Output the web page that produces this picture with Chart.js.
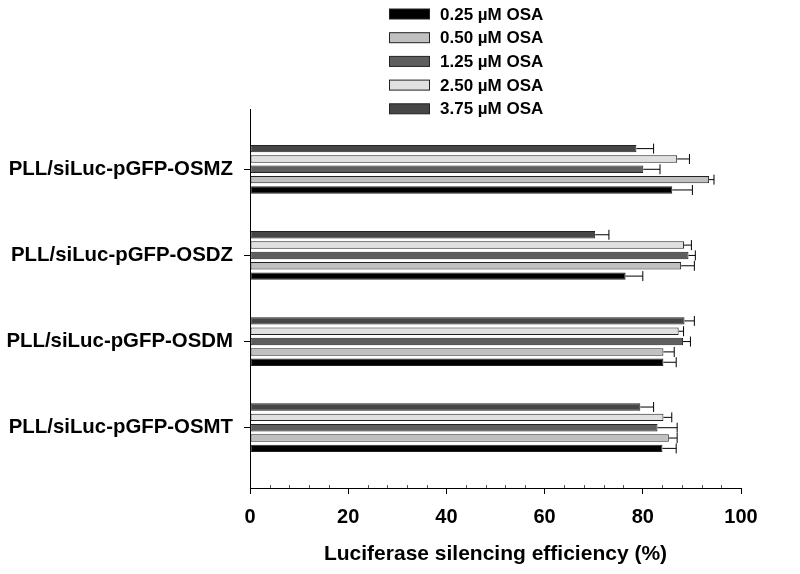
<!DOCTYPE html>
<html>
<head>
<meta charset="utf-8">
<script src="https://cdn.jsdelivr.net/npm/chart.js@4.4.1/dist/chart.umd.min.js"></script>
<style>
  body { margin: 0; background: #fff; }
  #wrap { width: 800px; height: 574px; }
</style>
</head>
<body>
<div id="wrap"><canvas id="chart" width="800" height="574"></canvas></div>
<script>
// categories, bottom to top
const categories = ["PLL/siLuc-pGFP-OSMT", "PLL/siLuc-pGFP-OSDM", "PLL/siLuc-pGFP-OSDZ", "PLL/siLuc-pGFP-OSMZ"];
const seriesNames = ["0.25 \u00b5M OSA", "0.50 \u00b5M OSA", "1.25 \u00b5M OSA", "2.50 \u00b5M OSA", "3.75 \u00b5M OSA"];

const osa025 = [84.0, 84.2, 76.5, 86.0];
const osa050 = [85.3, 84.2, 87.8, 93.5];
const osa125 = [83.0, 88.2, 89.3, 80.1];
const osa250 = [84.2, 87.3, 88.4, 87.0];
const osa375 = [79.5, 88.5, 70.3, 78.7];

const err025 = [2.8, 2.6, 3.5, 4.1];
const err050 = [1.7, 2.2, 2.7, 1.0];
const err125 = [4.0, 1.5, 1.4, 3.4];
const err250 = [1.7, 1.0, 1.5, 2.5];
const err375 = [2.7, 2.0, 2.8, 3.5];

const xTicks = [0, 20, 40, 60, 80, 100];

const colors = ['#000000', '#c0c0c0', '#5e5e5e', '#e0e0e0', '#464646'];
const values = [osa025, osa050, osa125, osa250, osa375];
const errors = [err025, err050, err125, err250, err375];

Chart.defaults.font.family = "'Liberation Sans', Arial, sans-serif";
Chart.defaults.font.weight = 'bold';
Chart.defaults.color = '#000';

// chart.js puts dataset 0 on top of each group, the figure has 3.75 on top
const datasets = [];
for (let i = values.length - 1; i >= 0; i--) {
    datasets.push({
        label: seriesNames[i],
        data: values[i].map((v, j) => ({ x: v, y: j })),
        errs: errors[i],
        backgroundColor: colors[i],
        borderColor: '#222',
        borderWidth: 1,
        borderSkipped: false,
        categoryPercentage: 0.6,
        barPercentage: 0.72
    });
}

const errorBars = {
    id: 'errorBars',
    afterDatasetsDraw(chart) {
        const ctx = chart.ctx;
        const xs = chart.scales.x;
        ctx.save();
        ctx.strokeStyle = '#000';
        ctx.lineWidth = 1;
        chart.data.datasets.forEach((ds, di) => {
            const meta = chart.getDatasetMeta(di);
            meta.data.forEach((bar, j) => {
                const end = xs.getPixelForValue(ds.data[j].x + ds.errs[j]);
                ctx.beginPath();
                ctx.moveTo(bar.x, bar.y);
                ctx.lineTo(end, bar.y);
                ctx.moveTo(end, bar.y - 5);
                ctx.lineTo(end, bar.y + 5);
                ctx.stroke();
            });
        });
        ctx.restore();
    }
};

const minorTicks = {
    id: 'minorTicks',
    afterDraw(chart) {
        const ctx = chart.ctx;
        const xs = chart.scales.x;
        ctx.save();
        ctx.strokeStyle = '#555';
        ctx.lineWidth = 1;
        for (let v = 4; v < 100; v += 4) {
            if (v % 20 === 0) continue;
            const px = Math.round(xs.getPixelForValue(v)) + 0.5;
            ctx.beginPath();
            ctx.moveTo(px, xs.top);
            ctx.lineTo(px, xs.top - 3);
            ctx.stroke();
        }
        ctx.restore();
    }
};

// one column legend above the plot
const columnLegend = {
    id: 'columnLegend',
    afterDraw(chart) {
        const ctx = chart.ctx;
        ctx.save();
        ctx.font = "bold 17px 'Liberation Sans', Arial, sans-serif";
        ctx.textBaseline = 'middle';
        for (let i = 0; i < seriesNames.length; i++) {
            const y = 14 + i * 23.7;
            ctx.fillStyle = colors[i];
            ctx.fillRect(389.5, y - 5, 40, 10);
            ctx.strokeStyle = '#222';
            ctx.lineWidth = 1;
            ctx.strokeRect(389.5, y - 5, 40, 10);
            ctx.fillStyle = '#000';
            ctx.fillText(seriesNames[i], 440, y + 1);
        }
        ctx.restore();
    }
};

new Chart(document.getElementById('chart'), {
    type: 'bar',
    data: { datasets: datasets },
    options: {
        indexAxis: 'y',
        responsive: false,
        animation: false,
        layout: { padding: { top: 109, right: 59, left: 0, bottom: 0 } },
        plugins: {
            legend: { display: false },
            tooltip: { enabled: false }
        },
        scales: {
            x: {
                type: 'linear',
                min: 0,
                max: 100,
                afterBuildTicks: (s) => { s.ticks = xTicks.map(v => ({ value: v })); },
                afterFit: (s) => { s.height = 86; },
                grid: { drawOnChartArea: false, drawTicks: true, tickLength: 6, color: '#000' },
                border: { display: true, color: '#000', width: 1 },
                ticks: { font: { size: 20, weight: 'bold' }, padding: 11, color: '#000', maxRotation: 0 },
                title: {
                    display: true,
                    text: 'Luciferase silencing efficiency (%)',
                    font: { size: 21, weight: 'bold' },
                    color: '#000',
                    padding: { top: 0, bottom: 7 }
                }
            },
            y: {
                type: 'linear',
                min: -0.7,
                max: 3.7,
                offset: false,
                afterBuildTicks: (s) => { s.ticks = categories.map((c, i) => ({ value: i })); },
                afterFit: (s) => { s.width = 250; },
                grid: { drawOnChartArea: false, drawTicks: true, tickLength: 6, color: '#000', offset: false },
                border: { display: true, color: '#000', width: 1 },
                ticks: {
                    font: { size: 20.4, weight: 'bold' },
                    padding: 11,
                    color: '#000',
                    callback: (v) => categories[v]
                }
            }
        }
    },
    plugins: [errorBars, minorTicks, columnLegend]
});
</script>
</body>
</html>
